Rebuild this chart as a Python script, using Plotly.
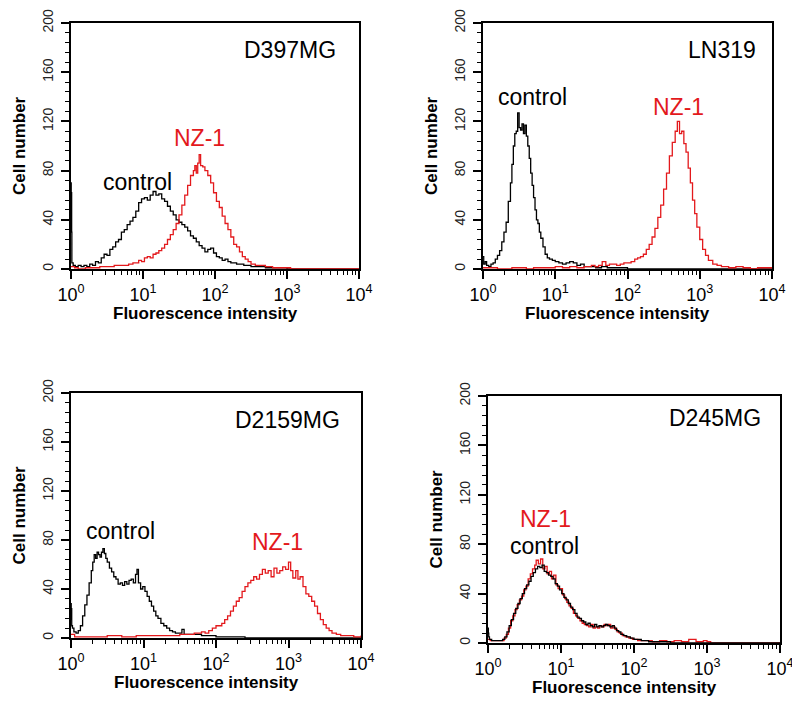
import plotly.graph_objects as go

W, H = 800, 708
OFF = 8  # page body margin of the written html
FONT = "Liberation Sans, Arial, Helvetica, sans-serif"
RED = "#e3191c"

# ---------------- data (x as log10 fluorescence, y = cell number) ----------------
d397_ctrl_lx = [0.0, 0.003, 0.006, 0.009, 0.012, 0.03, 0.06, 0.1, 0.14, 0.18, 0.22, 0.26, 0.30, 0.34, 0.38, 0.42, 0.46,
                0.50, 0.54, 0.58, 0.62, 0.66, 0.70, 0.74, 0.78, 0.82, 0.86, 0.90, 0.94, 0.98, 1.02, 1.06,
                1.10, 1.14, 1.18, 1.22, 1.26, 1.30, 1.34, 1.38, 1.42, 1.46, 1.50, 1.54, 1.58, 1.62, 1.66,
                1.70, 1.74, 1.78, 1.82, 1.86, 1.90, 1.94, 1.98, 2.02, 2.06, 2.10, 2.14, 2.18, 2.22, 2.30,
                2.40, 2.50, 2.60, 2.70, 2.85, 3.0, 4.0]
d397_ctrl_y = [70, 36, 62, 30, 5, 3, 2, 3, 2, 3, 2, 4, 3, 6, 5, 9, 12,
               11, 16, 18, 22, 24, 30, 32, 36, 39, 42, 47, 54, 57, 58, 56,
               60, 63, 60, 61, 57, 55, 51, 47, 44, 40, 38, 36, 34, 31, 27,
               25, 22, 19, 17, 14, 16, 17, 13, 10, 9, 7, 8, 6, 5, 4,
               3, 2, 2, 1, 1, 0, 0]
d397_nz_lx = [0.0, 0.05, 0.1, 0.2, 0.3, 0.4, 0.5, 0.6, 0.7, 0.8, 0.86, 0.9, 0.94, 0.98, 1.02,
              1.06, 1.10, 1.14, 1.18, 1.22, 1.26, 1.30, 1.34, 1.38, 1.42, 1.46, 1.50, 1.54, 1.58, 1.62,
              1.66, 1.70, 1.72, 1.74, 1.76, 1.78, 1.80, 1.83, 1.86, 1.90, 1.94, 1.98, 2.02, 2.06, 2.10,
              2.14, 2.18, 2.22, 2.26, 2.30, 2.34, 2.38, 2.42, 2.46, 2.50, 2.56, 2.62, 2.70, 2.80, 2.90,
              3.0, 3.05, 4.0]
d397_nz_y = [2, 1, 0, 1, 1, 2, 2, 3, 3, 4, 5, 5, 7, 6, 9,
             10, 9, 12, 13, 15, 17, 20, 24, 28, 32, 37, 44, 52, 60, 68,
             76, 80, 84, 78, 86, 93, 84, 83, 80, 76, 70, 62, 55, 50, 43,
             37, 32, 26, 20, 18, 14, 10, 8, 6, 4, 3, 3, 2, 1, 1,
             1, 0, 0]

ln319_ctrl_lx = [0.0, 0.01, 0.03, 0.05, 0.08, 0.11, 0.14, 0.17, 0.20, 0.23, 0.26, 0.29, 0.32, 0.35, 0.38,
                 0.40, 0.42, 0.44, 0.46, 0.48, 0.50, 0.52, 0.54, 0.56, 0.58, 0.60, 0.62, 0.64, 0.66, 0.68,
                 0.70, 0.72, 0.74, 0.76, 0.78, 0.80, 0.83, 0.86, 0.89, 0.92, 0.96, 1.0, 1.05, 1.10, 1.15,
                 1.20, 1.25, 1.30, 1.35, 1.40, 1.48, 1.56, 1.64, 1.72, 1.85, 2.0, 4.0]
ln319_ctrl_y = [10, 4, 6, 3, 2, 4, 5, 8, 11, 15, 22, 30, 38, 55, 70,
                85, 100, 110, 112, 127, 115, 113, 118, 110, 117, 108, 100, 90, 78, 68,
                58, 48, 40, 37, 30, 25, 18, 12, 9, 8, 7, 6, 5, 4, 5,
                6, 5, 3, 4, 2, 2, 1, 2, 1, 1, 0, 0]
ln319_nz_lx = [0.0, 0.2, 0.4, 0.6, 0.7, 0.9, 1.0, 1.1, 1.2, 1.3, 1.4, 1.5, 1.55, 1.6, 1.65,
               1.70, 1.75, 1.80, 1.85, 1.90, 1.95, 2.0, 2.05, 2.10, 2.14, 2.18, 2.22, 2.26, 2.30, 2.34,
               2.38, 2.42, 2.46, 2.50, 2.54, 2.58, 2.62, 2.66, 2.69, 2.72, 2.75, 2.78, 2.81, 2.84, 2.87,
               2.90, 2.93, 2.96, 3.0, 3.04, 3.08, 3.12, 3.18, 3.24, 3.3, 3.4, 3.5, 3.6, 3.7, 3.8,
               3.9, 4.0]
ln319_nz_y = [1, 0, 1, 0, 1, 1, 2, 1, 2, 1, 2, 3, 2, 3, 6,
              3, 4, 4, 3, 4, 5, 5, 6, 8, 9, 10, 12, 16, 20, 26,
              33, 42, 52, 65, 78, 92, 103, 112, 120, 110, 112, 102, 95, 82, 70,
              56, 45, 34, 24, 16, 11, 7, 4, 3, 2, 1, 2, 1, 0, 1,
              1, 1]

d2159_ctrl_lx = [0.0, 0.003, 0.006, 0.01, 0.02, 0.04, 0.07, 0.10, 0.13, 0.16, 0.19, 0.22, 0.25, 0.28, 0.30, 0.32,
                 0.34, 0.36, 0.38, 0.40, 0.42, 0.44, 0.46, 0.48, 0.50, 0.53, 0.56, 0.59, 0.62, 0.65, 0.68,
                 0.71, 0.74, 0.77, 0.80, 0.83, 0.86, 0.89, 0.91, 0.93, 0.96, 0.99, 1.02, 1.05, 1.08, 1.11,
                 1.14, 1.17, 1.20, 1.24, 1.28, 1.32, 1.36, 1.40, 1.44, 1.50, 1.53, 1.56, 1.62, 1.70, 1.80,
                 1.90, 2.0, 2.2, 2.4, 4.0]
d2159_ctrl_y = [28, 15, 24, 10, 8, 5, 4, 6, 10, 18, 27, 35, 45, 55, 62, 68,
                65, 70, 68, 66, 70, 73, 69, 65, 62, 57, 54, 50, 48, 44, 45,
                43, 46, 44, 47, 48, 45, 52, 56, 45, 40, 42, 38, 34, 30, 26,
                22, 18, 16, 12, 10, 8, 6, 5, 4, 4, 7, 3, 3, 3, 2,
                2, 1, 1, 0, 0]
d2159_nz_lx = [0.0, 0.05, 0.1, 0.3, 0.5, 0.7, 0.9, 1.1, 1.3, 1.5, 1.6, 1.7, 1.8, 1.85, 1.9,
               1.95, 2.0, 2.04, 2.08, 2.12, 2.16, 2.20, 2.24, 2.28, 2.32, 2.36, 2.40, 2.44, 2.48, 2.52,
               2.56, 2.60, 2.64, 2.68, 2.72, 2.76, 2.80, 2.84, 2.88, 2.92, 2.96, 3.0, 3.03, 3.06, 3.10,
               3.13, 3.16, 3.20, 3.24, 3.28, 3.32, 3.36, 3.40, 3.44, 3.48, 3.52, 3.56, 3.60, 3.66, 3.72,
               3.8, 3.9, 4.0]
d2159_nz_y = [3, 1, 1, 1, 2, 1, 2, 2, 2, 3, 3, 4, 5, 4, 6,
              8, 10, 10, 12, 15, 18, 22, 26, 30, 33, 38, 42, 45, 47, 50,
              48, 52, 56, 53, 55, 50, 57, 53, 55, 58, 56, 62, 55, 49, 55,
              48, 50, 42, 36, 34, 30, 26, 20, 15, 11, 8, 6, 4, 3, 2,
              2, 1, 2]

d245_ctrl_lx = [0.0, 0.005, 0.01, 0.02, 0.05, 0.10, 0.15, 0.20, 0.23, 0.26, 0.29, 0.32, 0.35, 0.38, 0.41,
                0.44, 0.47, 0.50, 0.53, 0.56, 0.59, 0.62, 0.65, 0.68, 0.71, 0.74, 0.77, 0.80, 0.83, 0.86,
                0.89, 0.92, 0.95, 0.98, 1.01, 1.04, 1.07, 1.10, 1.13, 1.16, 1.19, 1.22, 1.25, 1.28, 1.31,
                1.34, 1.37, 1.40, 1.43, 1.46, 1.49, 1.52, 1.55, 1.58, 1.61, 1.64, 1.67, 1.70, 1.73, 1.76,
                1.79, 1.82, 1.86, 1.90, 1.95, 2.0, 2.1, 2.2, 2.3, 2.5, 4.0]
d245_ctrl_y = [12, 8, 5, 3, 2, 2, 2, 3, 5, 9, 14, 19, 24, 28, 32,
               36, 40, 44, 47, 50, 54, 57, 60, 62, 61, 63, 58, 57, 55, 54,
               52, 48, 46, 43, 40, 37, 35, 32, 29, 27, 24, 21, 20, 18, 17,
               15, 16, 14, 13, 15, 13, 14, 13, 14, 15, 14, 13, 14, 12, 10,
               9, 7, 6, 5, 4, 3, 2, 1, 1, 0, 0]
d245_nz_lx = [0.0, 0.03, 0.08, 0.13, 0.18, 0.22, 0.25, 0.28, 0.31, 0.34, 0.37, 0.40, 0.43, 0.46, 0.49,
              0.52, 0.55, 0.58, 0.61, 0.64, 0.66, 0.69, 0.72, 0.75, 0.78, 0.81, 0.84, 0.87, 0.90, 0.93,
              0.96, 0.99, 1.02, 1.05, 1.08, 1.11, 1.14, 1.17, 1.20, 1.23, 1.26, 1.29, 1.32, 1.35, 1.38,
              1.41, 1.44, 1.47, 1.50, 1.53, 1.56, 1.59, 1.62, 1.65, 1.68, 1.71, 1.74, 1.77, 1.80, 1.84,
              1.88, 1.93, 1.98, 2.05, 2.15, 2.25, 2.35, 2.45, 2.55, 2.65, 2.75, 2.85, 2.95, 3.0, 3.05,
              4.0]
d245_nz_y = [3, 2, 2, 2, 2, 4, 7, 12, 18, 22, 27, 31, 35, 38, 43,
             46, 52, 56, 60, 63, 67, 64, 68, 60, 62, 56, 58, 52, 55, 47,
             44, 44, 39, 36, 33, 30, 28, 24, 22, 20, 18, 16, 15, 14, 13,
             15, 12, 13, 12, 14, 13, 15, 14, 15, 12, 13, 11, 9, 8, 6,
             5, 4, 3, 2, 2, 1, 2, 1, 2, 1, 3, 1, 2, 1, 0,
             0]

x_tick_vals = [1, 10, 100, 1000, 10000]
x_tick_text = ["10<sup>0</sup>", "10<sup>1</sup>", "10<sup>2</sup>", "10<sup>3</sup>", "10<sup>4</sup>"]
y_tick_vals = [0, 40, 80, 120, 160, 200]

# ---------------- layout helpers (screen pixels -> paper fractions) ----------------
def px_x(p):
    return (p - OFF) / W

def px_y(p):
    return 1 - (p - OFF) / H

# plot-area boxes in screen pixels: (left, right, top, bottom)
panels = [
    dict(name="D397MG", box=(71, 359, 23, 269),
         ctrl=(d397_ctrl_lx, d397_ctrl_y), nz=(d397_nz_lx, d397_nz_y), red_on_top=True,
         name_pos=(290, 50), ctrl_pos=(137, 182), nz_pos=(199, 138)),
    dict(name="LN319", box=(483, 772, 23, 269),
         ctrl=(ln319_ctrl_lx, ln319_ctrl_y), nz=(ln319_nz_lx, ln319_nz_y), red_on_top=True,
         name_pos=(722, 50), ctrl_pos=(532, 97), nz_pos=(678, 107)),
    dict(name="D2159MG", box=(71, 361, 393, 638),
         ctrl=(d2159_ctrl_lx, d2159_ctrl_y), nz=(d2159_nz_lx, d2159_nz_y), red_on_top=True,
         name_pos=(287, 420), ctrl_pos=(120, 531), nz_pos=(277, 542)),
    dict(name="D245MG", box=(488, 780, 396, 643),
         ctrl=(d245_ctrl_lx, d245_ctrl_y), nz=(d245_nz_lx, d245_nz_y), red_on_top=False,
         name_pos=(715, 418), ctrl_pos=(544, 546), nz_pos=(545, 519)),
]

minor_x = [m * 10 ** d for d in range(4) for m in range(2, 10)]

fig = go.Figure()
annotations = []
layout = {}

for i, p in enumerate(panels):
    n = "" if i == 0 else str(i + 1)
    xa, ya = "x" + n, "y" + n
    l, r, t, b = p["box"]
    layout["xaxis" + n] = dict(
        domain=[px_x(l), px_x(r)], anchor=ya, type="log", range=[0, 4],
        showline=True, linecolor="black", linewidth=2, mirror=True,
        ticks="outside", ticklen=8, tickwidth=1.5, tickcolor="black",
        tickvals=x_tick_vals, ticktext=x_tick_text,
        tickfont=dict(family=FONT, size=18, color="black"),
        ticklabelstandoff=0,
        minor=dict(tickvals=minor_x, ticks="outside", ticklen=4, tickwidth=1.3, tickcolor="black"),
        showgrid=False, zeroline=False, layer="below traces", fixedrange=True,
        automargin=False,
    )
    layout["yaxis" + n] = dict(
        domain=[px_y(b), px_y(t)], anchor=xa, range=[0, 200],
        showline=True, linecolor="black", linewidth=2, mirror=True,
        ticks="outside", ticklen=8, tickwidth=1.5, tickcolor="black",
        tickvals=y_tick_vals, tickangle=-90,
        tickfont=dict(family=FONT, size=14, color="#222"),
        ticklabelstandoff=2,
        minor=dict(dtick=8, tick0=0, ticks="outside", ticklen=4, tickwidth=1.3, tickcolor="black"),
        showgrid=False, zeroline=False, layer="below traces", fixedrange=True,
        automargin=False,
    )

    ctrl_tr = go.Scatter(x=[10 ** v for v in p["ctrl"][0]], y=p["ctrl"][1], mode="lines",
                         line=dict(color="black", width=1.3, shape="hv"), name="control",
                         xaxis=xa, yaxis=ya, showlegend=False)
    nz_tr = go.Scatter(x=[10 ** v for v in p["nz"][0]], y=p["nz"][1], mode="lines",
                       line=dict(color=RED, width=1.3, shape="hv"), name="NZ-1",
                       xaxis=xa, yaxis=ya, showlegend=False)
    if p["red_on_top"]:
        fig.add_trace(ctrl_tr)
        fig.add_trace(nz_tr)
    else:
        fig.add_trace(nz_tr)
        fig.add_trace(ctrl_tr)

    def ann(text, pos, size, color="black", bold=False, angle=0):
        annotations.append(dict(
            text=("<b>%s</b>" % text) if bold else text,
            x=px_x(pos[0]), y=px_y(pos[1]), xref="paper", yref="paper",
            xanchor="center", yanchor="middle", showarrow=False, textangle=angle,
            font=dict(family=FONT, size=size, color=color)))

    ann(p["name"], p["name_pos"], 23)
    ann("control", p["ctrl_pos"], 23)
    ann("NZ-1", p["nz_pos"], 23, color=RED)
    # axis titles
    ann("Fluorescence intensity", ((l + r) / 2 - 10, b + 44), 17, bold=True)
    ann("Cell number", (l - 52, (t + b) / 2), 17, bold=True, angle=-90)

fig.update_layout(
    width=W, height=H, margin=dict(l=0, r=0, t=0, b=0, autoexpand=False),
    paper_bgcolor="white", plot_bgcolor="white",
    showlegend=False, annotations=annotations, **layout,
)

fig.write_html("out.html")
